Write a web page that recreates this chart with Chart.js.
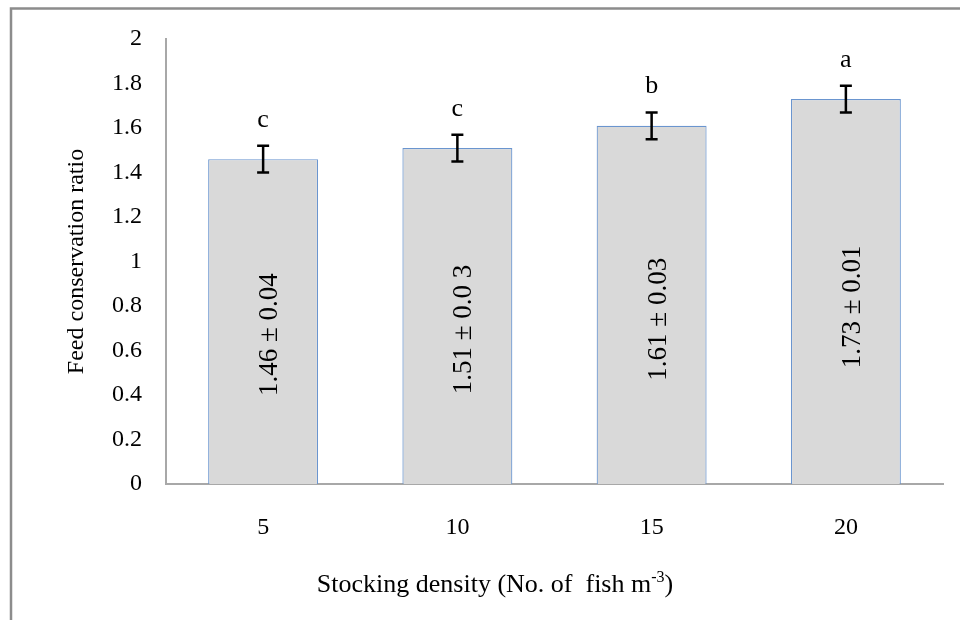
<!DOCTYPE html>
<html>
<head>
<meta charset="utf-8">
<script src="https://cdn.jsdelivr.net/npm/chart.js@4"></script>
<style>
  html, body { margin: 0; padding: 0; background: #ffffff; }
  #wrap { position: relative; width: 960px; height: 620px; }
</style>
</head>
<body>
<div id="wrap"><canvas id="c" width="960" height="620"></canvas></div>
<script>
// Stocking density groups and feed conversion results
const densities = ['5', '10', '15', '20'];
const fcrMean = [1.46, 1.51, 1.61, 1.73];
const fcrErrText = ['0.04', '0.0 3', '0.03', '0.01'];
const errorBar = [0.06, 0.06, 0.06, 0.06];
const groupLetters = ['c', 'c', 'b', 'a'];
const yTicks = [0, 0.2, 0.4, 0.6, 0.8, 1, 1.2, 1.4, 1.6, 1.8, 2];

const SERIF = '"Liberation Serif", "Times New Roman", serif';

// Outer frame line (top and left edges of the chart box)
const framePlugin = {
  id: 'frame',
  beforeDraw(chart) {
    const ctx = chart.ctx;
    ctx.save();
    ctx.strokeStyle = '#8c8c8c';
    ctx.lineWidth = 2.5;
    ctx.beginPath();
    ctx.moveTo(11, 640);
    ctx.lineTo(11, 8.5);
    ctx.lineTo(980, 8.5);
    ctx.stroke();
    ctx.restore();
  }
};

// Error bars, significance letters and in-bar value labels
const annotatePlugin = {
  id: 'annotate',
  afterDatasetsDraw(chart) {
    const ctx = chart.ctx;
    const y = chart.scales.y;
    const meta = chart.getDatasetMeta(0);
    ctx.save();
    meta.data.forEach((bar, i) => {
      const x = bar.x;
      const top = y.getPixelForValue(fcrMean[i] + errorBar[i]);
      const bot = y.getPixelForValue(fcrMean[i] - errorBar[i]);
      ctx.strokeStyle = '#000000';
      ctx.lineWidth = 2.5;
      ctx.beginPath();
      ctx.moveTo(x, top); ctx.lineTo(x, bot);
      ctx.moveTo(x - 6, top); ctx.lineTo(x + 6, top);
      ctx.moveTo(x - 6, bot); ctx.lineTo(x + 6, bot);
      ctx.stroke();

      ctx.fillStyle = '#000000';
      ctx.font = '26px ' + SERIF;
      ctx.textAlign = 'center';
      ctx.textBaseline = 'alphabetic';
      ctx.fillText(groupLetters[i], x, top - 19);

      const ly = y.getPixelForValue(fcrMean[i] * 0.46);
      ctx.save();
      ctx.translate(x + 7, ly);
      ctx.rotate(-Math.PI / 2);
      ctx.font = '27px ' + SERIF;
      ctx.textAlign = 'center';
      ctx.textBaseline = 'middle';
      ctx.fillText(fcrMean[i].toFixed(2) + ' \u00b1 ' + fcrErrText[i], 0, 0);
      ctx.restore();
    });
    ctx.restore();
  }
};

// X axis title with superscript unit
const xTitlePlugin = {
  id: 'xTitle',
  afterDraw(chart) {
    const ctx = chart.ctx;
    const main = 'Stocking density (No. of  fish m';
    const sup = '-3';
    const tail = ')';
    ctx.save();
    ctx.fillStyle = '#000000';
    ctx.textBaseline = 'alphabetic';
    ctx.textAlign = 'left';
    ctx.font = '26px ' + SERIF;
    const wMain = ctx.measureText(main).width;
    const wTail = ctx.measureText(tail).width;
    ctx.font = '16px ' + SERIF;
    const wSup = ctx.measureText(sup).width;
    const total = wMain + wSup + wTail;
    const cx = 495, base = 592;
    let x = cx - total / 2;
    ctx.font = '26px ' + SERIF;
    ctx.fillText(main, x, base);
    x += wMain;
    ctx.font = '16px ' + SERIF;
    ctx.fillText(sup, x, base - 10);
    x += wSup;
    ctx.font = '26px ' + SERIF;
    ctx.fillText(tail, x, base);
    ctx.restore();
  }
};

new Chart(document.getElementById('c'), {
  type: 'bar',
  data: {
    labels: densities,
    datasets: [{
      data: fcrMean,
      backgroundColor: '#d9d9d9',
      borderColor: '#6a95cf',
      borderWidth: 1.2,
      borderSkipped: 'bottom',
      barPercentage: 0.566,
      categoryPercentage: 1.0
    }]
  },
  options: {
    responsive: false,
    animation: false,
    devicePixelRatio: 1,
    layout: { padding: { left: 40, top: 39, right: 17, bottom: 16 } },
    plugins: {
      legend: { display: false },
      tooltip: { enabled: false },
      title: { display: false }
    },
    scales: {
      x: {
        grid: { display: false, drawTicks: false },
        border: { display: true, color: '#a8a8a8', width: 2 },
        ticks: {
          color: '#000000',
          font: { family: SERIF, size: 24 },
          padding: 29
        },
        afterFit(scale) { scale.height = 120; }
      },
      y: {
        min: 0,
        max: 2,
        afterBuildTicks(scale) { scale.ticks = yTicks.map(v => ({ value: v })); },
        grid: { display: false, drawTicks: false },
        border: { display: true, color: '#a8a8a8', width: 2 },
        ticks: {
          color: '#000000',
          font: { family: SERIF, size: 24 },
          padding: 24,
          callback: v => String(parseFloat(Number(v).toFixed(1)))
        },
        title: {
          display: true,
          text: 'Feed conservation ratio',
          color: '#000000',
          font: { family: SERIF, size: 24 },
          padding: { top: 22, bottom: 0 }
        },
        afterFit(scale) { scale.width = 126; }
      }
    }
  },
  plugins: [framePlugin, annotatePlugin, xTitlePlugin]
});
</script>
</body>
</html>
